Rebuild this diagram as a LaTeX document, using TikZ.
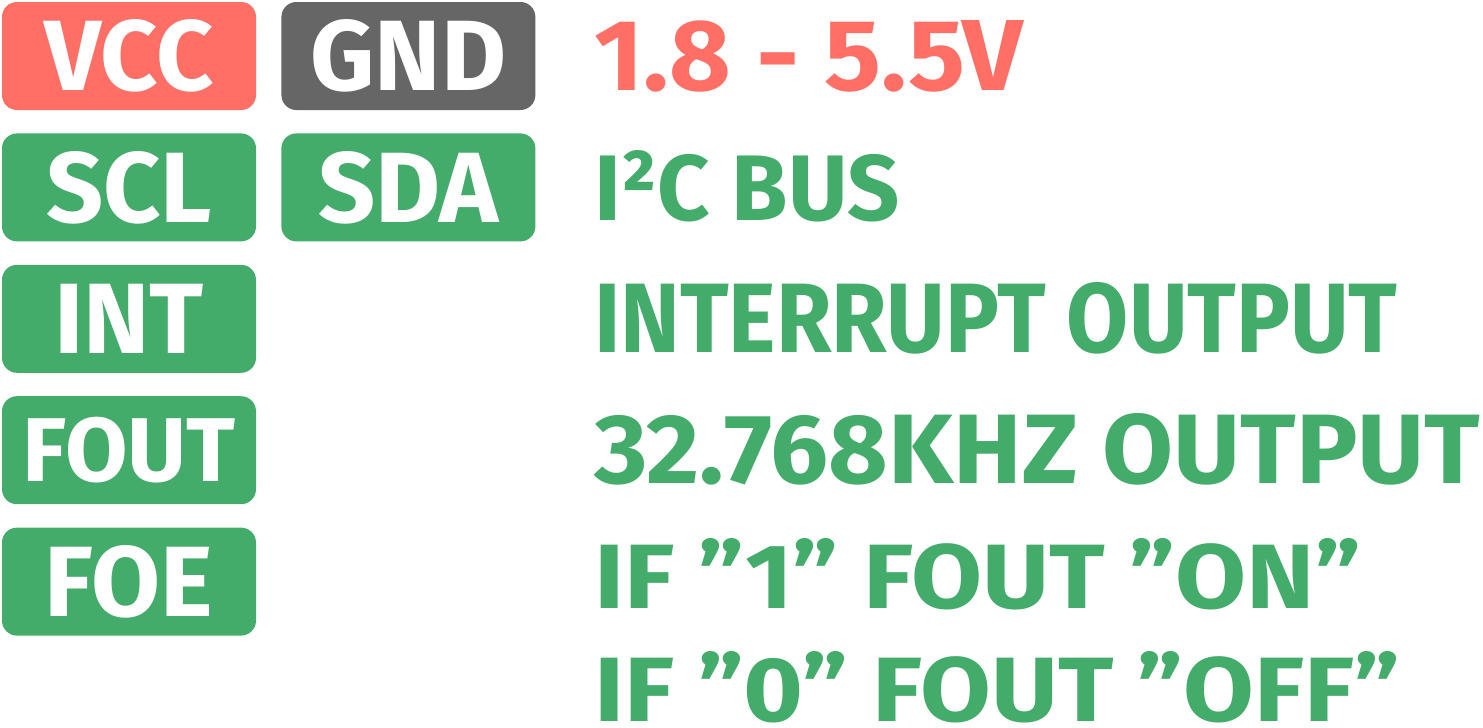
\documentclass[tikz,border=0pt]{standalone}
\usepackage{fontspec}
\setmainfont{Fira Sans}
\usetikzlibrary{positioning}
\definecolor{pinred}{HTML}{FF6F66}
\definecolor{pingray}{HTML}{666666}
\definecolor{pingreen}{HTML}{43AC6A}
\newcommand{\fitline}[2]{\resizebox{#1}{70pt}{#2}}

\begin{document}
\begin{tikzpicture}[x=1pt,y=-1pt, node distance=23pt and 25pt,
  pin/.style={rounded corners=15pt,minimum width=254pt,minimum height=108pt,inner sep=0pt,
    fill=#1,text=white,font=\fontsize{100}{100}\selectfont\bfseries},
  desc/.style={anchor=base west,inner sep=0pt,text=#1,font=\bfseries}]
\useasboundingbox (0,0) rectangle (1483,728);
% pin boxes
\node[pin=pinred] (vcc) at (129,56) {VCC};
\node[pin=pingray,right=of vcc] (gnd) {GND};
\node[pin=pingreen,below=of vcc] (scl) {SCL};
\node[pin=pingreen,below=of gnd] (sda) {SDA};
\node[pin=pingreen,below=of scl] (int) {INT};
\node[pin=pingreen,below=of int] (fout) {\resizebox{213pt}{!}{FOUT}};
\node[pin=pingreen,below=of fout] (foe) {FOE};
% descriptions
\node[desc=pinred] (volt) at (594,90) {\fitline{428pt}{1.8 - 5.5V}};
\node[desc=pingreen] (bus) at (594,220) {\fitline{305pt}{I²C BUS}};
\node[desc=pingreen] (intout) at (594,352) {\fitline{803pt}{INTERRUPT OUTPUT}};
\node[desc=pingreen] (clkout) at (594,483) {\fitline{886pt}{32.768KHZ OUTPUT}};
\node[desc=pingreen] (foeon) at (594,608) {\fitline{767pt}{IF ”1” FOUT ”ON”}};
\node[desc=pingreen] (foeoff) at (594,721) {\fitline{806pt}{IF ”0” FOUT ”OFF”}};
\end{tikzpicture}
\end{document}
